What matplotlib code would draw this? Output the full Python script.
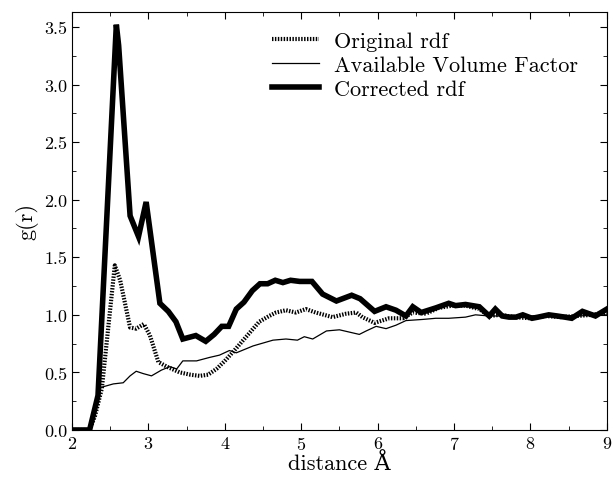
import numpy as np
import matplotlib
matplotlib.use('Agg')
import matplotlib.pyplot as plt
from matplotlib.ticker import MultipleLocator, FormatStrFormatter

#data (distance in Angstrom)
corr_x = [2.0, 2.23, 2.34, 2.58, 2.61, 2.76, 2.87, 2.97, 3.15, 3.26, 3.36, 3.45,
          3.62, 3.75, 3.86, 3.96, 4.05, 4.15, 4.25, 4.36, 4.46, 4.56, 4.66, 4.76,
          4.86, 4.98, 5.14, 5.28, 5.46, 5.66, 5.77, 5.96, 6.11, 6.24, 6.37, 6.46,
          6.57, 6.76, 6.93, 7.02, 7.15, 7.33, 7.46, 7.54, 7.63, 7.72, 7.81, 7.9,
          8.02, 8.1, 8.24, 8.35, 8.45, 8.54, 8.68, 8.85, 9.0]
corr_y = [0, 0, 0.30, 3.52, 3.34, 1.86, 1.68, 1.98, 1.10, 1.03, 0.94, 0.79,
          0.82, 0.77, 0.83, 0.90, 0.90, 1.05, 1.11, 1.21, 1.27, 1.27, 1.30, 1.28,
          1.30, 1.29, 1.29, 1.18, 1.12, 1.17, 1.14, 1.03, 1.07, 1.04, 0.99, 1.07,
          1.02, 1.06, 1.10, 1.08, 1.09, 1.07, 0.99, 1.05, 0.99, 0.98, 0.98, 1.00,
          0.97, 0.98, 1.00, 0.99, 0.98, 0.97, 1.03, 0.99, 1.05]

orig_x = [2.0, 2.23, 2.30, 2.39, 2.56, 2.63, 2.76, 2.84, 2.94, 3.02, 3.13, 3.24,
          3.41, 3.55, 3.67, 3.78, 3.89, 4.0, 4.11, 4.28, 4.45, 4.58, 4.67, 4.80,
          4.93, 5.06, 5.19, 5.41, 5.59, 5.72, 5.80, 5.96, 6.15, 6.33, 6.46, 6.63,
          6.80, 6.98, 7.15, 7.33, 7.46, 7.6, 7.8, 8.0, 8.2, 8.4, 8.6, 8.8, 9.0]
orig_y = [0, 0, 0.12, 0.36, 1.43, 1.30, 0.89, 0.88, 0.92, 0.82, 0.59, 0.55,
          0.50, 0.48, 0.47, 0.48, 0.53, 0.60, 0.68, 0.81, 0.94, 0.99, 1.02, 1.04,
          1.02, 1.05, 1.02, 0.98, 1.01, 1.02, 0.98, 0.93, 0.97, 0.97, 1.02, 1.01,
          1.06, 1.08, 1.08, 1.05, 0.99, 1.00, 0.98, 0.97, 0.99, 0.98, 0.99, 1.00, 1.02]

avf_x = [2.0, 2.23, 2.34, 2.38, 2.54, 2.67, 2.76, 2.84, 2.93, 3.04, 3.17, 3.28,
         3.37, 3.45, 3.63, 3.80, 3.93, 4.06, 4.15, 4.37, 4.63, 4.80, 4.95, 5.04,
         5.15, 5.33, 5.50, 5.63, 5.76, 5.85, 5.98, 6.11, 6.24, 6.37, 6.59, 6.76,
         6.93, 7.15, 7.28, 7.46, 7.7, 8.0, 8.3, 8.6, 9.0]
avf_y = [0, 0, 0.30, 0.37, 0.40, 0.41, 0.47, 0.51, 0.49, 0.47, 0.52, 0.55,
         0.53, 0.60, 0.60, 0.63, 0.65, 0.69, 0.67, 0.73, 0.78, 0.79, 0.78, 0.81,
         0.79, 0.86, 0.87, 0.85, 0.83, 0.86, 0.90, 0.88, 0.91, 0.95, 0.96, 0.97,
         0.97, 0.98, 1.00, 0.99, 0.99, 0.99, 1.00, 0.99, 1.00]

#fonts: computer modern look, fall back for the angstrom sign
plt.rcParams['font.family'] = ['cmr10', 'DejaVu Serif']
plt.rcParams['axes.unicode_minus'] = False
plt.rcParams['axes.formatter.use_mathtext'] = True

fig = plt.figure(figsize=(6.13, 4.81), dpi=100)
ax = fig.add_axes([0.1175, 0.104, 0.8725, 0.869])

ax.plot(orig_x, orig_y, color='black', lw=3, linestyle=(0, (0.35, 0.35)),
        label='Original rdf')
ax.plot(avf_x, avf_y, color='black', lw=0.9, label='Available Volume Factor')
ax.plot(corr_x, corr_y, color='black', lw=4, solid_joinstyle='miter',
        label='Corrected rdf')

ax.set_xlim(2, 9)
ax.set_ylim(0, 3.63)
ax.xaxis.set_major_locator(MultipleLocator(1))
ax.xaxis.set_minor_locator(MultipleLocator(0.5))
ax.yaxis.set_major_locator(MultipleLocator(0.5))
ax.yaxis.set_minor_locator(MultipleLocator(0.25))
ax.yaxis.set_major_formatter(FormatStrFormatter('%.1f'))
ax.tick_params(which='both', direction='in', top=True, right=True, labelsize=13)
ax.tick_params(which='major', length=5, width=0.8)
ax.tick_params(which='minor', length=3, width=0.6)

ax.set_xlabel('distance Å', fontsize=16, labelpad=0)
ax.set_ylabel('g(r)', fontsize=16, labelpad=4)

ax.legend(loc='upper left', bbox_to_anchor=(272 / 613, 1 - 32 / 481),
          bbox_transform=fig.transFigure, frameon=False, fontsize=16,
          borderpad=0, borderaxespad=0, handlelength=2.1, handletextpad=0.7,
          labelspacing=0.2)

fig.savefig('out.png', dpi=100)
